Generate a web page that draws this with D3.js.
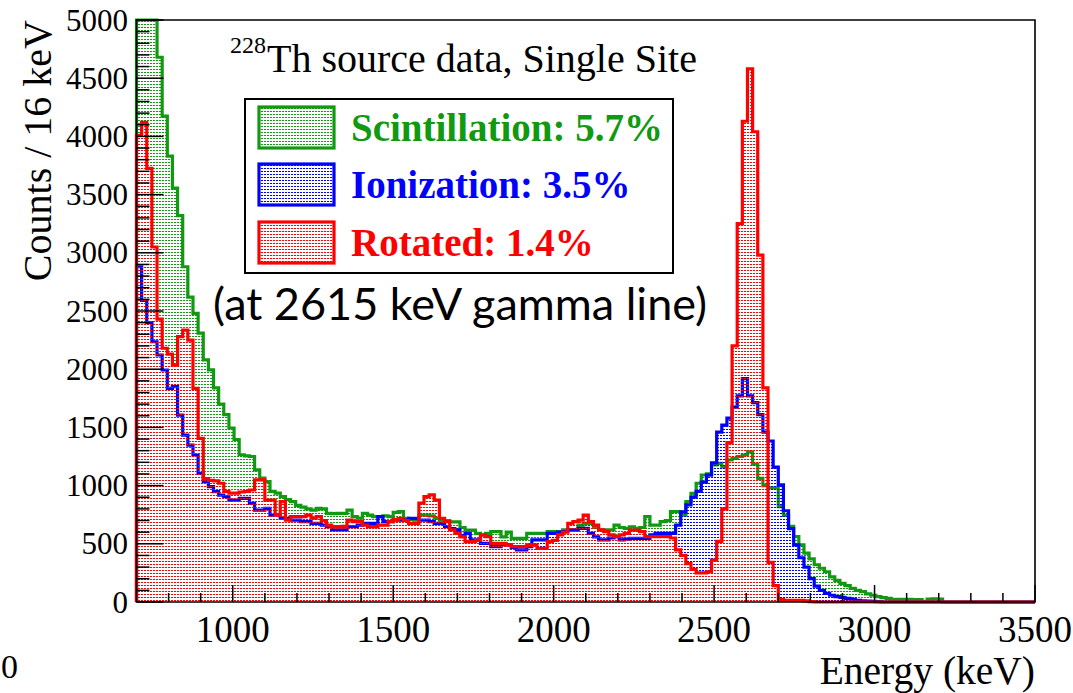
<!DOCTYPE html>
<html><head><meta charset="utf-8">
<script src="https://cdn.jsdelivr.net/npm/d3@7"></script>
<style>body{margin:0;background:#fff}</style>
</head><body>
<svg id="c" width="1073" height="693"></svg>
<script>
const binStart = 700, binWidth = 16;
const scintillation = [5000,5000,5000,5000,4680,4175,3830,3555,3320,2880,
 2620,2480,2310,2080,1995,1840,1700,1610,1495,1395,
 1265,1255,1250,1135,1065,1035,950,935,905,880,
 862,830,815,800,790,805,800,762,760,762,
 762,790,733,720,762,747,733,733,740,733,
 770,776,719,710,704,747,747,740,720,704,
 700,689,689,640,618,618,590,575,590,604,
 604,560,600,547,547,547,590,590,590,590,
 604,604,604,619,619,619,660,676,676,640,
 620,619,619,660,640,633,645,633,640,733,
 661,661,690,700,776,776,747,862,934,1020,
 1091,1100,1177,1191,1160,1220,1234,1250,1263,1290,
 1185,1062,1000,980,980,820,745,650,561,490,
 420,370,320,290,260,215,185,160,140,117,
 100,89,70,58,46,38,32,22,22,22,
 22,20,20,5,25,28,25,0,0,0,
 0,0,0,0,0,0,0,0,0,0,
 0,0,0,0,0];
const ionization = [2880,2590,2400,2236,2122,1993,1836,1850,1606,1434,
 1348,1263,1105,1034,991,948,919,905,876,876,
 890,890,848,790,790,805,747,747,719,719,
 704,704,690,690,676,676,661,647,619,619,
 619,647,647,660,676,676,676,733,690,690,
 704,704,704,719,719,704,704,690,676,676,
 647,630,619,570,590,533,533,504,504,475,
 475,490,490,470,447,447,475,533,533,533,
 590,590,600,604,619,619,633,633,590,560,
 533,533,550,561,533,540,547,547,547,547,
 576,590,590,590,590,660,775,835,900,950,
 1030,1090,1195,1460,1520,1580,1675,1770,1919,1770,
 1712,1610,1460,1383,1159,1007,784,630,490,380,
 300,200,136,100,74,58,46,40,32,25,
 15,10,8,5,3,0,0,0,0,0,
 0,0,0,0,0,0,0,0,0,0,
 0,0,0,0,0,0,0,0,0,0,
 0,0,0,0,0];
const rotated = [4010,4120,3725,3050,2430,2180,2130,2035,2280,2336,
 2250,1836,1405,1060,1045,1040,1020,950,935,935,
 945,950,962,1049,1049,876,876,750,862,704,
 733,733,733,747,720,733,700,661,647,647,
 650,704,690,690,660,647,647,661,661,690,
 710,719,700,676,676,850,905,920,876,719,
 690,620,590,560,518,518,530,576,561,504,
 504,504,490,475,475,475,490,490,461,461,
 518,530,576,600,676,690,704,747,690,660,
 620,605,576,561,576,590,618,618,605,561,
 561,561,561,561,550,447,400,330,280,250,
 250,260,360,520,800,1370,2200,3250,4130,4580,
 4040,2980,1840,340,140,20,15,15,15,15,
 10,3,0,0,0,0,0,0,0,0,
 0,0,0,0,0,0,0,0,0,0,
 0,0,0,0,0,0,0,0,0,0,
 0,0,0,0,0,0,0,0,0,0,
 0,0,0,0,0];
const xTickValues = [1000,1500,2000,2500,3000,3500];
const yTickValues = [0,500,1000,1500,2000,2500,3000,3500,4000,4500,5000];
const legendLabels = ["Scintillation: 5.7%","Ionization: 3.5%","Rotated: 1.4%"];
const titleText = "Th source data, Single Site";
const titleSup = "228";
const noteText = "(at 2615 keV gamma line)";
const xTitle = "Energy (keV)";
const yTitle = "Counts / 16 keV";

const colors = ["#119911","#0000ff","#ff0000"];
const series = [scintillation, ionization, rotated];

const svg = d3.select("#c");
const L = 136.5, R = 1035, T = 20, B = 602;
const x = d3.scaleLinear().domain([700,3500]).range([L,R]);
const y = d3.scaleLinear().domain([0,5000]).range([B,T]).clamp(true);

// dotted fill patterns (transparent background)
const defs = svg.append("defs");
colors.forEach((c,k)=>{
  const p = defs.append("pattern").attr("id","pat"+k).attr("patternUnits","userSpaceOnUse")
    .attr("width",3).attr("height",3);
  p.append("rect").attr("x",0).attr("y",0).attr("width",2).attr("height",1).attr("fill",c)
    .attr("shape-rendering","crispEdges");
});

function stepPts(vals){
  const pts = [[x(binStart), y(0)]];
  vals.forEach((v,i)=>{
    const e0 = binStart + i*binWidth, e1 = e0 + binWidth;
    pts.push([x(e0), y(v)], [x(Math.min(e1,3500)), y(v)]);
  });
  pts.push([x(3500), y(0)]);
  return pts;
}
const line = d3.line();

const g = svg.append("g");
series.forEach((vals,k)=>{
  const pts = stepPts(vals);
  g.append("path").attr("d", line(pts)+"Z").attr("fill","url(#pat"+k+")").attr("stroke","none");
  g.append("path").attr("d", line(pts)).attr("fill","none").attr("stroke",colors[k])
    .attr("stroke-width",3.2).attr("stroke-linejoin","miter");
});

// frame
svg.append("path").attr("d",`M${L},${B}L${L},${T}L${R},${T}L${R},${B}Z`)
  .attr("fill","none").attr("stroke","#000").attr("stroke-width",1.6);

// y ticks
const yMinor = d3.range(0,5001,100);
svg.append("g").selectAll("line").data(yMinor).join("line")
  .attr("x1",L).attr("x2",d=> d%500===0 ? L+27 : L+13)
  .attr("y1",d=>y(d)).attr("y2",d=>y(d)).attr("stroke","#000").attr("stroke-width",1.5);
svg.append("g").selectAll("text").data(yTickValues).join("text")
  .attr("x",128).attr("y",d=>y(d)+10.5).attr("text-anchor","end")
  .attr("font-family","Liberation Serif").attr("font-size",31).text(d=>d);

// x ticks
const xMinor = d3.range(800,3501,100);
svg.append("g").selectAll("line").data(xMinor).join("line")
  .attr("x1",d=>x(d)).attr("x2",d=>x(d)).attr("y1",B).attr("y2",d=> d%500===0 ? B-17 : B-9)
  .attr("stroke","#000").attr("stroke-width",1.5);
svg.append("g").selectAll("text").data(xTickValues).join("text")
  .attr("x",d=>x(d)).attr("y",642).attr("text-anchor","middle")
  .attr("font-family","Liberation Serif").attr("font-size",37).text(d=>d);
svg.append("text").attr("x",1).attr("y",678).attr("font-family","Liberation Serif").attr("font-size",34).text("0");

// axis titles
svg.append("text").attr("x",R).attr("y",684).attr("text-anchor","end")
  .attr("font-family","Liberation Serif").attr("font-size",39.5).text(xTitle);
svg.append("text").attr("transform","translate(51,20) rotate(-90)").attr("text-anchor","end")
  .attr("font-family","Liberation Serif").attr("font-size",40).text(yTitle);

// title
svg.append("text").attr("x",230).attr("y",53).attr("font-family","Liberation Serif").attr("font-size",24).text(titleSup);
svg.append("text").attr("x",267).attr("y",72).attr("font-family","Liberation Serif").attr("font-size",40).text(titleText);

// legend
svg.append("rect").attr("x",245).attr("y",99).attr("width",428).attr("height",174)
  .attr("fill","#fff").attr("stroke","#000").attr("stroke-width",2);
const legY = [107,164,222];
legendLabels.forEach((lab,k)=>{
  svg.append("rect").attr("x",259).attr("y",legY[k]).attr("width",75).attr("height",41)
    .attr("fill","url(#pat"+k+")").attr("stroke",colors[k]).attr("stroke-width",3.2);
  svg.append("text").attr("x",351).attr("y",legY[k]+34).attr("font-family","Liberation Serif")
    .attr("font-weight","bold").attr("font-size",39).attr("fill",colors[k]).text(lab);
});

// note
svg.append("text").attr("x",213).attr("y",320).attr("font-family","Lato").attr("font-size",44)
  .attr("textLength",494).attr("lengthAdjust","spacingAndGlyphs").attr("fill","#000").text(noteText);
</script>
</body></html>
